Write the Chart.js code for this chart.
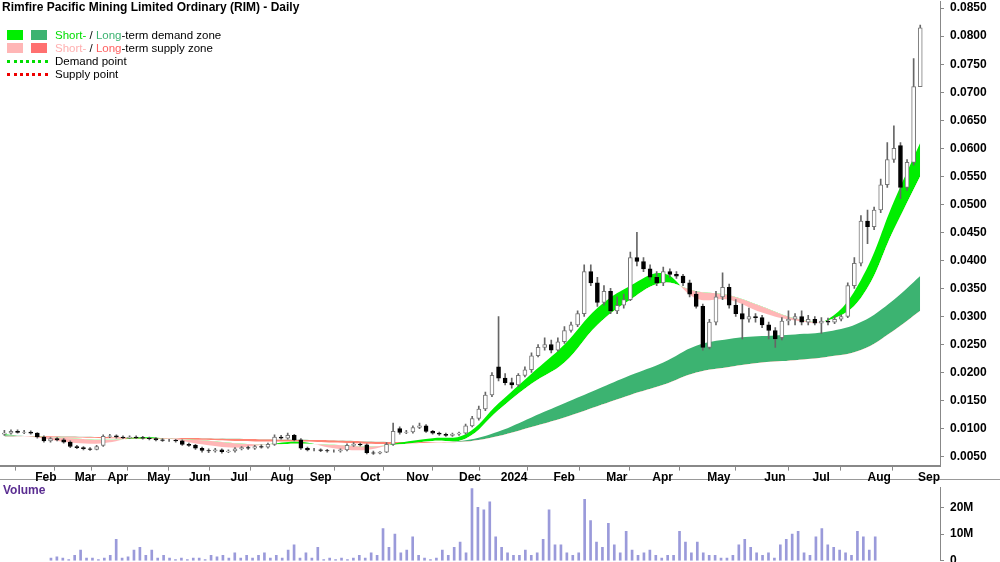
<!DOCTYPE html>
<html><head><meta charset="utf-8">
<script src="https://cdn.jsdelivr.net/npm/chart.js@4/dist/chart.umd.min.js"></script>
<style>
body{margin:0;width:1000px;height:562px;background:#fff;position:relative;overflow:hidden;font-family:"Liberation Sans",Arial,sans-serif}
#c1{position:absolute;left:0;top:-12px}
#c2{position:absolute;left:0;top:474px}
#sep{position:absolute;left:0;top:479px;width:1000px;height:0;border-top:1px solid #999}
#title{position:absolute;left:2px;top:0px;font-size:12px;font-weight:bold;color:#000}
#legend{position:absolute;left:7px;top:29px;font-size:11.5px;color:#000;line-height:13px}
.row{height:13px;white-space:nowrap;position:relative;padding-left:48px}
.sw{position:absolute;top:1px;width:16px;height:10px}
.dot{position:absolute;top:5px;left:0;width:41px;height:0;border-top:3px dotted}
#vol{position:absolute;left:3px;top:483px;font-size:12px;font-weight:bold;color:#5a2d91}
</style></head><body>
<div id="sep"></div>
<canvas id="c2" width="1000" height="100"></canvas>
<canvas id="c1" width="1000" height="497"></canvas>
<div id="title">Rimfire Pacific Mining Limited Ordinary (RIM) - Daily</div>
<div id="legend">
<div class="row"><span class="sw" style="left:0;background:#00ee00"></span><span class="sw" style="left:24px;background:#3cb371"></span><span style="color:#00dd00">Short-</span> / <span style="color:#3cb371">Long</span>-term demand zone</div>
<div class="row"><span class="sw" style="left:0;background:#ffb6b6"></span><span class="sw" style="left:24px;background:#ff7070"></span><span style="color:#ffb0b0">Short-</span> / <span style="color:#ff6060">Long</span>-term supply zone</div>
<div class="row"><span class="dot" style="border-color:#00dd00"></span>Demand point</div>
<div class="row"><span class="dot" style="border-color:#ee0000"></span>Supply point</div>
</div>
<div id="vol">Volume</div>
<script>
// trading-day index of each candle = 3k+1
const candleDay = Array.from({length:140},(_,k)=>3*k+1);
const open=[.0090,.0092,.0095,.0093,.0094, .0092,.0085,.0078,.0082,.0080, .0076,.0068,.0066,.0064,.0063, .0070,.0086,.0087,.0085,.0084,
.0085,.0084,.0083,.0082,.0080, .0079,.0079,.0078,.0072,.0070, .0065,.0061,.0060,.0062,.0059, .0060,.0064,.0066,.0065,.0068,
.0067,.0072,.0085,.0083,.0088, .0080,.0065,.0062,.0062,.0061, .0060,.0060,.0062,.0070,.0072, .0071,.0057,.0056,.0058,.0072,
.0100,.0093,.0094,.0102,.0105, .0095,.0092,.0090,.0088,.0090, .0092,.0105,.0118,.0135,.0160, .0210,.0190,.0182,.0178,.0195,
.0205,.0230,.0245,.0250,.0240, .0255,.0275,.0285,.0305,.0380, .0360,.0325,.0345,.0310,.0320, .0330,.0405,.0398,.0385,.0370,
.0360,.0380,.0375,.0372,.0360, .0340,.0318,.0245,.0290,.0335, .0352,.0320,.0305,.0295,.0300, .0298,.0285,.0275,.0262,.0292,
.0295,.0300,.0290,.0295,.0288, .0292,.0290,.0295,.0300,.0355, .0395,.0470,.0460,.0490,.0535, .0580,.0605,.0530,.0575,.0710];
const high=[.0097,.0098,.0098,.0097,.0096, .0093,.0087,.0084,.0084,.0082, .0078,.0070,.0068,.0066,.0070, .0089,.0090,.0089,.0087,.0087,
.0087,.0086,.0085,.0084,.0082, .0081,.0081,.0080,.0074,.0072, .0067,.0064,.0065,.0064,.0062, .0066,.0068,.0069,.0070,.0071,
.0074,.0089,.0088,.0092,.0090, .0082,.0067,.0065,.0064,.0063, .0062,.0064,.0073,.0075,.0074, .0073,.0060,.0059,.0075,.0110,
.0103,.0097,.0105,.0110,.0107, .0097,.0094,.0092,.0092,.0094, .0108,.0122,.0140,.0165,.0200, .0300,.0198,.0190,.0198,.0210,
.0235,.0250,.0262,.0258,.0262, .0282,.0290,.0310,.0392,.0392, .0370,.0355,.0350,.0335,.0340, .0415,.0450,.0405,.0392,.0380,
.0388,.0385,.0380,.0375,.0365, .0345,.0322,.0295,.0345,.0378, .0358,.0330,.0322,.0315,.0305, .0302,.0290,.0280,.0298,.0310,
.0305,.0310,.0302,.0300,.0298, .0297,.0300,.0303,.0360,.0405, .0480,.0490,.0495,.0545,.0610, .0640,.0610,.0580,.0760,.0820];
const low=[.0088,.0090,.0092,.0091,.0090, .0083,.0076,.0076,.0078,.0074, .0066,.0064,.0062,.0061,.0062, .0068,.0084,.0083,.0082,.0082,
.0082,.0081,.0080,.0078,.0077, .0077,.0076,.0070,.0068,.0063, .0058,.0057,.0058,.0056,.0057, .0058,.0062,.0063,.0063,.0065,
.0065,.0070,.0081,.0081,.0078, .0063,.0060,.0060,.0059,.0058, .0058,.0058,.0060,.0068,.0069, .0055,.0054,.0055,.0057,.0070,
.0090,.0091,.0092,.0100,.0093, .0090,.0088,.0086,.0086,.0088, .0090,.0103,.0115,.0132,.0157, .0185,.0178,.0172,.0175,.0192,
.0200,.0228,.0240,.0235,.0238, .0252,.0272,.0282,.0300,.0355, .0318,.0320,.0305,.0305,.0315, .0328,.0390,.0380,.0365,.0355,
.0355,.0370,.0368,.0355,.0335, .0315,.0240,.0242,.0285,.0330, .0315,.0300,.0260,.0290,.0290, .0280,.0260,.0245,.0258,.0285,
.0285,.0285,.0285,.0285,.0270, .0285,.0287,.0292,.0298,.0350, .0390,.0430,.0455,.0485,.0530, .0575,.0510,.0525,.0570,.0790];
const close=[.0092,.0095,.0093,.0094,.0092, .0085,.0078,.0082,.0080,.0076, .0068,.0066,.0064,.0063,.0068, .0086,.0087,.0085,.0084,.0085,
.0084,.0083,.0082,.0080,.0079, .0079,.0078,.0072,.0070,.0065, .0061,.0060,.0062,.0059,.0060, .0064,.0066,.0065,.0068,.0067,
.0072,.0085,.0083,.0088,.0080, .0065,.0062,.0062,.0061,.0060, .0060,.0062,.0070,.0072,.0071, .0057,.0056,.0058,.0072,.0095,
.0093,.0094,.0102,.0105,.0095, .0092,.0090,.0088,.0090,.0092, .0105,.0118,.0135,.0160,.0195, .0190,.0182,.0178,.0195,.0205,
.0230,.0245,.0250,.0240,.0255, .0275,.0285,.0305,.0380,.0360, .0325,.0345,.0310,.0320,.0330, .0405,.0398,.0385,.0370,.0360,
.0380,.0375,.0372,.0360,.0340, .0318,.0245,.0290,.0335,.0352, .0320,.0305,.0295,.0300,.0298, .0285,.0275,.0260,.0292,.0295,
.0300,.0290,.0295,.0288,.0292, .0290,.0295,.0300,.0355,.0395, .0470,.0460,.0490,.0535,.0580, .0600,.0530,.0575,.0710,.0815];
const volumeM=[1,1.5,1,0.5,2,4,1,1,0.5,1, 2,8,1,1.5,4,5,2,4,1,2, 1,0.5,1,0.5,1,1,0.5,2,1.5,2, 1,3,1,2,1,2,3,1,2,1,
4,6,1,3,1,5,0.5,1,0.5,1, 0.5,1,2,1,3,2,12,5,10,3, 4,9,2,1,0.5,1,4,2,5,7, 3,27,20,19,22,9,5,3,2,2,
4,2,3,8,19,6,6,3,2,3, 23,15,7,5,14,6,3,11,4,2, 3,4,2,1,2,2,11,7,3,7, 3,2,2,1,1,2,6,8,5,3,
2,3,1,6,8,10,11,3,2,9, 12,6,5,4,3,2,11,9,4,9];
// zone boundaries (day index)
const bandDay=[1,16,31,46,61,76,91,106,121,136,151,166,181,196,211,226,241,256,271,286,301,316,331,346,361,376,391,406,418];
const shortFast=[.0090,.0084,.0075,.0074,.0084,.0082,.0072,.0066,.0072,.0076,.0065,.0062,.0075,.0083,.0090,.0145,.0198,.0250,.0315,.0355,.0377,.0332,.0330,.0307,.0293,.0295,.0365,.0505,.0610];
const shortSlow=[.0088,.0086,.0083,.0080,.0082,.0082,.0079,.0074,.0072,.0073,.0071,.0068,.0072,.0078,.0082,.0133,.0180,.0218,.0285,.0330,.0360,.0345,.0338,.0318,.0297,.0293,.0333,.0455,.0550];
const longFast=[.0088,.0086,.0084,.0083,.0082,.0082,.0080,.0078,.0077,.0077,.0075,.0073,.0073,.0075,.0079,.0095,.0120,.0145,.0170,.0195,.0218,.0248,.0260,.0265,.0268,.0273,.0290,.0330,.0372];
const longSlow=[.0086,.0087,.0086,.0085,.0084,.0083,.0083,.0082,.0081,.0080,.0079,.0077,.0076,.0076,.0077,.0087,.0103,.0120,.0140,.0160,.0178,.0200,.0210,.0218,.0222,.0228,.0240,.0275,.0310];
const monthLabels=["Feb","Mar","Apr","May","Jun","Jul","Aug","Sep","Oct","Nov","Dec","2024","Feb","Mar","Apr","May","Jun","Jul","Aug","Sep"];
const monthDay=[15,33,48,66,85,104,122,140,163,184,208,227,251,275,296,321,347,369,394,417];

const up=close.map((c,i)=>c>=open[i]);
const pts=(ys)=>bandDay.map((d,i)=>({x:d,y:ys[i]}));
const lineBase={type:'line',pointRadius:0,borderWidth:0,tension:0.4,order:10};
const fixY=s=>{s.width=60;};
const tickFont={family:'Liberation Sans',size:12,weight:'bold'};
new Chart(document.getElementById('c1'),{
 data:{datasets:[
  {type:'bar',order:0,data:candleDay.map((d,i)=>({x:d,y:[Math.min(open[i],close[i]),Math.max(open[i],close[i])]})),
   backgroundColor:up.map(u=>u?'#ffffff':'#000000'),borderColor:up.map(u=>u?'#777777':'#000000'),borderWidth:1,borderSkipped:false,barThickness:4,grouped:false},
  {type:'bar',order:1,data:candleDay.map((d,i)=>({x:d,y:[low[i],high[i]]})),backgroundColor:'#666',barThickness:1,grouped:false},
  {...lineBase,data:pts(shortSlow),fill:false},
  {...lineBase,data:pts(shortFast),fill:{target:2,above:'#00ee00',below:'rgba(255,170,170,0.85)'}},
  {...lineBase,order:11,data:pts(longSlow),fill:false},
  {...lineBase,order:11,data:pts(longFast),fill:{target:4,above:'#3cb371',below:'rgba(255,100,80,0.8)'}}
 ]},
 options:{responsive:false,animation:false,layout:{padding:0},
  plugins:{legend:{display:false},tooltip:{enabled:false}},
  scales:{
   x:{type:'linear',min:-1,max:427,offset:false,
    afterBuildTicks:s=>{s.ticks=monthDay.map(v=>({value:v}));},
    ticks:{autoSkip:false,maxRotation:0,callback:(v,i)=>monthLabels[i],font:tickFont,color:'#000',padding:0,align:'start'},
    grid:{drawOnChartArea:false,tickLength:5,color:'#888'},border:{color:'#888',width:2}},
   y:{position:'right',min:0.0034,max:0.08624,afterFit:fixY,
    afterBuildTicks:s=>{const t=[];for(let v=50;v<=850;v+=50)t.push({value:v/10000});s.ticks=t;},
    ticks:{callback:v=>v.toFixed(4),font:tickFont,color:'#000',padding:6},
    grid:{drawOnChartArea:false,tickLength:4,color:'#888'},border:{color:'#888',width:1}}
  }}
});
new Chart(document.getElementById('c2'),{
 type:'bar',
 data:{datasets:[{data:candleDay.map((d,i)=>({x:d,y:volumeM[i]})),backgroundColor:'#9a9ada',barThickness:2}]},
 options:{responsive:false,animation:false,layout:{padding:0},
  plugins:{legend:{display:false},tooltip:{enabled:false}},
  scales:{
   x:{type:'linear',min:-1,max:427,display:false},
   y:{position:'right',min:0,max:27.5,afterFit:fixY,
    afterBuildTicks:s=>{s.ticks=[{value:0},{value:10},{value:20}];},
    ticks:{callback:v=>v===0?'0':v+'M',font:tickFont,color:'#000',padding:6},
    grid:{drawOnChartArea:false,tickLength:4,color:'#888'},border:{color:'#888',width:1}}
  }}
});
</script></body></html>
